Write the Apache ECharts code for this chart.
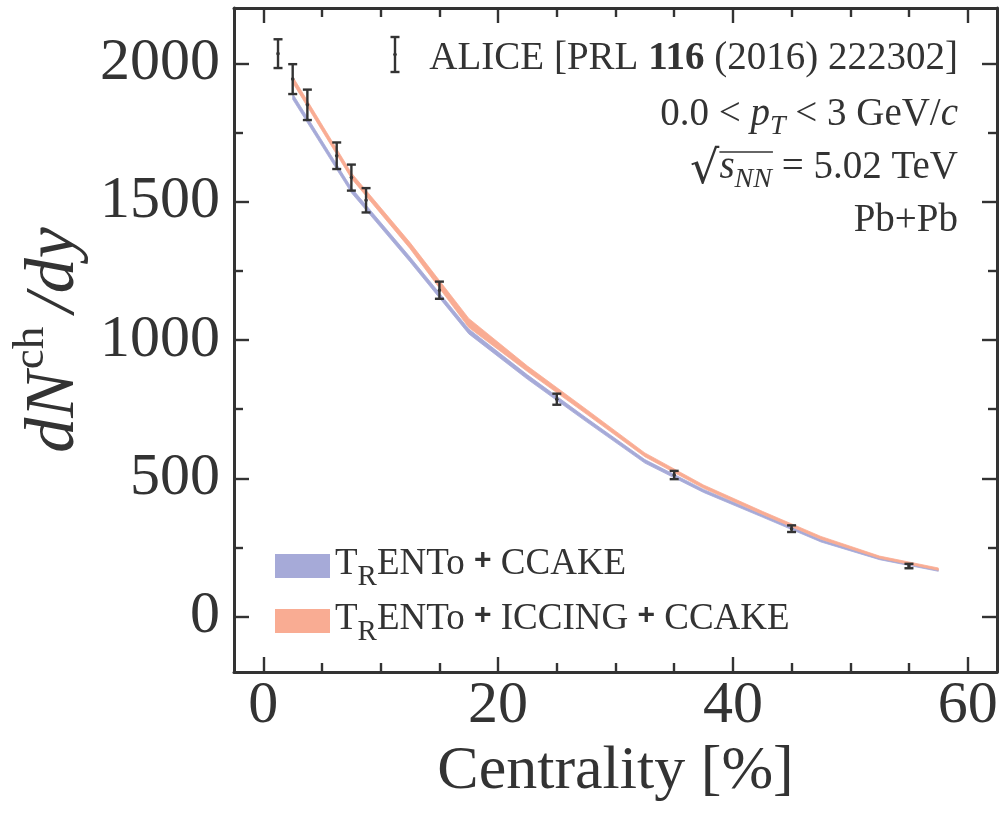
<!DOCTYPE html>
<html>
<head>
<meta charset="utf-8">
<script src="https://cdn.jsdelivr.net/npm/echarts@6/dist/echarts.min.js"></script>
<style>
  html, body { margin: 0; padding: 0; background: #fff; }
  #chart { width: 1002px; height: 819px; }
</style>
</head>
<body>
<div id="chart"></div>
<script>
  // ALICE PRL 116 (2016) 222302, centrality bin centres
  var aliceX = [1.25, 2.5, 3.75, 6.25, 7.5, 8.75, 15, 25, 35, 45, 55];
  var aliceY = [2035, 1943, 1850, 1666, 1587, 1505, 1180, 786, 512, 318, 183];
  var aliceErr = [52, 54, 55, 48, 47, 44, 31, 20, 15, 12, 8];

  // model bands (lower / upper edge)
  var modelX = [2.5, 7.5, 12.5, 17.5, 22.5, 27.5, 32.5, 37.5, 42.5, 47.5, 52.5, 57.5];
  var ccakeLow = [1870, 1532, 1282, 1022, 858, 705, 555, 449, 360, 270, 206, 164];
  var ccakeHigh = [1890, 1550, 1300, 1040, 874, 719, 568, 460, 370, 279, 213, 171];
  var iccingLow = [1930, 1584, 1330, 1045, 886, 733, 578, 464, 370, 280, 211, 168];
  var iccingHigh = [1952, 1604, 1352, 1078, 906, 750, 592, 476, 381, 290, 219, 176];

  var xMajor = [0, 20, 40, 60];
  var xMinor = [5, 10, 15, 25, 30, 35, 45, 50, 55];
  var yMajor = [0, 500, 1000, 1500, 2000];
  var yMinor = [250, 750, 1250, 1750];

  var nameCcake = 'TRENTo + CCAKE';
  var nameIccing = 'TRENTo + ICCING + CCAKE';

  var FONT = 'Liberation Serif';
  var INK = '#333';
  var BLUE = '#a6aad8';
  var ORANGE = '#f9ac93';

  function axis(dim, pos, ticks, len, labels, lineShow) {
    var a = {
      type: 'value',
      position: pos,
      min: dim === 'x' ? -2.5 : -200,
      max: dim === 'x' ? 62.5 : 2200,
      splitLine: { show: false },
      axisLine: { show: lineShow, onZero: false, lineStyle: { color: INK, width: 3 } },
      axisTick: { show: true, inside: true, length: len, customValues: ticks,
        lineStyle: { color: INK, width: 2.4 } },
      axisLabel: { show: false }
    };
    if (labels) {
      a.axisLabel = { show: true, customValues: labels, color: INK, fontFamily: FONT,
        fontSize: 60, margin: dim === 'x' ? 4 : 14,
        formatter: function (v) { return String(v); } };
    }
    return a;
  }

  var xAxes = [
    axis('x', 'bottom', xMajor, 15, xMajor, true),
    axis('x', 'bottom', xMinor, 9, null, false),
    axis('x', 'top', xMajor, 15, null, true),
    axis('x', 'top', xMinor, 9, null, false)
  ];
  xAxes[0].name = 'Centrality [%]';
  xAxes[0].nameLocation = 'middle';
  xAxes[0].nameGap = 66;
  xAxes[0].nameTextStyle = { color: INK, fontFamily: FONT, fontSize: 62 };

  var yAxes = [
    axis('y', 'left', yMajor, 15, yMajor, true),
    axis('y', 'left', yMinor, 9, null, false),
    axis('y', 'right', yMajor, 15, null, true),
    axis('y', 'right', yMinor, 9, null, false)
  ];
  yAxes[0].name = '{i|dN}{s|ch}{i|/dy}';
  yAxes[0].nameLocation = 'middle';
  yAxes[0].nameGap = 136;
  yAxes[0].nameTextStyle = {
    color: INK, fontFamily: FONT,
    rich: {
      i: { fontStyle: 'italic', fontSize: 70, lineHeight: 74, verticalAlign: 'top', padding: [10, 0, 0, 0], color: INK, fontFamily: FONT },
      s: { fontSize: 45, lineHeight: 47, verticalAlign: 'top', padding: [0, 14, 0, 2], color: INK, fontFamily: FONT }
    }
  };

  var legendRich = {
    t: { fontSize: 37, lineHeight: 40, verticalAlign: 'top', color: INK, fontFamily: FONT },
    p: { fontSize: 30, lineHeight: 40, verticalAlign: 'top', fontWeight: 'bold', color: INK, fontFamily: 'Liberation Sans' },
    r: { fontSize: 29, lineHeight: 30, verticalAlign: 'top', padding: [17, 0, 0, 0], color: INK, fontFamily: FONT }
  };

  function bandSeries(name, lo, hi, color) {
    return {
      type: 'custom',
      name: name,
      color: color,
      itemStyle: { color: color },
      silent: true,
      data: modelX.map(function (x, i) { return [x, lo[i], hi[i]]; }),
      encode: { x: 0, y: [1, 2] },
      renderItem: function (params, api) {
        if (params.dataIndexInside !== 0) return;
        var n = params.dataInsideLength;
        var up = [], dn = [];
        for (var j = 0; j < n; j++) {
          up.push(api.coord([api.value(0, j), api.value(2, j)]));
          dn.unshift(api.coord([api.value(0, j), api.value(1, j)]));
        }
        return {
          type: 'polygon',
          shape: { points: up.concat(dn) },
          style: { fill: color, stroke: color, lineWidth: 0.8 }
        };
      }
    };
  }

  var errData = aliceX.map(function (x, i) {
    return [x, aliceY[i] - aliceErr[i], aliceY[i] + aliceErr[i], aliceY[i]];
  });

  var series = [
    bandSeries(nameCcake, ccakeLow, ccakeHigh, BLUE),
    bandSeries(nameIccing, iccingLow, iccingHigh, ORANGE)
  ];
  series.push({
    type: 'custom',
    name: 'ALICE',
    data: errData,
    encode: { x: 0, y: [1, 2] },
    z: 10,
    silent: true,
    renderItem: function (params, api) {
      var x = api.value(0);
      var lo = api.coord([x, api.value(1)]);
      var hi = api.coord([x, api.value(2)]);
      var mid = api.coord([x, api.value(3)]);
      var cw = 4.5;
      var st = { stroke: INK, lineWidth: 2.4 };
      return {
        type: 'group',
        children: [
          { type: 'line', shape: { x1: lo[0], y1: lo[1], x2: hi[0], y2: hi[1] }, style: st },
          { type: 'line', shape: { x1: lo[0] - cw, y1: lo[1], x2: lo[0] + cw, y2: lo[1] }, style: st },
          { type: 'line', shape: { x1: hi[0] - cw, y1: hi[1], x2: hi[0] + cw, y2: hi[1] }, style: st },
          { type: 'circle', shape: { cx: mid[0], cy: mid[1], r: 1.8 }, style: { fill: INK } }
        ]
      };
    }
  });

  // overline for sqrt(s_NN)
  var ctx = document.createElement('canvas').getContext('2d');
  function tw(txt, size, italic) {
    ctx.font = (italic ? 'italic ' : '') + size + 'px "' + FONT + '"';
    return ctx.measureText(txt).width;
  }
  var annRight = 958;
  var wRest = tw(' = 5.02 TeV', 39, false);
  var wS = tw('s', 39, true);
  var wNN = tw('NN', 28, true);
  var olEnd = annRight - wRest + 1;
  var olStart = olEnd - wS - wNN - 1;

  var annRich = {
    n: { fontSize: 39, lineHeight: 42, verticalAlign: 'top', color: INK, fontFamily: FONT },
    b: { fontSize: 39, lineHeight: 42, verticalAlign: 'top', fontWeight: 'bold', color: INK, fontFamily: FONT },
    i: { fontSize: 39, lineHeight: 42, verticalAlign: 'top', fontStyle: 'italic', color: INK, fontFamily: FONT },
    sub: { fontSize: 28, lineHeight: 28, verticalAlign: 'top', fontStyle: 'italic', padding: [18, 0, 0, 0], color: INK, fontFamily: FONT },
    rad: { fontSize: 46, lineHeight: 46, verticalAlign: 'top', color: INK, fontFamily: 'DejaVu Serif' }
  };

  function annText(txt, y) {
    return {
      type: 'text', x: annRight, y: y,
      style: { text: txt, align: 'right', verticalAlign: 'middle', rich: annRich, fontFamily: FONT, fill: INK }
    };
  }

  var option = {
    backgroundColor: '#fff',
    animation: false,
    grid: { left: 234, top: 8, width: 763, height: 664, containLabel: false, outerBoundsMode: 'none' },
    xAxis: xAxes,
    yAxis: yAxes,
    legend: {
      orient: 'vertical', left: 270, top: 541,
      itemWidth: 55, itemHeight: 24, itemGap: 9,
      icon: 'rect',
      selectedMode: false,
      data: [
        { name: nameCcake, itemStyle: { color: BLUE, borderWidth: 0 } },
        { name: nameIccing, itemStyle: { color: ORANGE, borderWidth: 0 } }
      ],
      formatter: function (name) {
        var parts = name.slice(2).split(' + ');
        return '{t|T}{r|R}{t|' + parts.join(' }{p|+}{t| ') + '}';
      },
      textStyle: { rich: legendRich, color: INK, fontFamily: FONT }
    },
    graphic: [
      // errorbar glyph of the ALICE legend entry
      { type: 'line', shape: { x1: 395, y1: 37, x2: 395, y2: 72 }, style: { stroke: INK, lineWidth: 2.4 } },
      { type: 'line', shape: { x1: 390.5, y1: 37, x2: 399.5, y2: 37 }, style: { stroke: INK, lineWidth: 2.4 } },
      { type: 'line', shape: { x1: 390.5, y1: 72, x2: 399.5, y2: 72 }, style: { stroke: INK, lineWidth: 2.4 } },
      { type: 'circle', shape: { cx: 395, cy: 54.5, r: 1.8 }, style: { fill: INK } },
      annText('{n|ALICE [PRL }{b|116}{n| (2016) 222302]}', 60),
      annText('{n|0.0 < }{i|p}{sub|T}{n| < 3 GeV/}{i|c}', 116),
      annText('{rad|√}{i|s}{sub|NN}{n| = 5.02 TeV}', 171),
      { type: 'line', shape: { x1: olStart, y1: 152, x2: olEnd, y2: 152 }, style: { stroke: INK, lineWidth: 1.6 } },
      annText('{n|Pb+Pb}', 222)
    ],
    series: series
  };

  var chart = echarts.init(document.getElementById('chart'));
  chart.setOption(option);
</script>
</body>
</html>
